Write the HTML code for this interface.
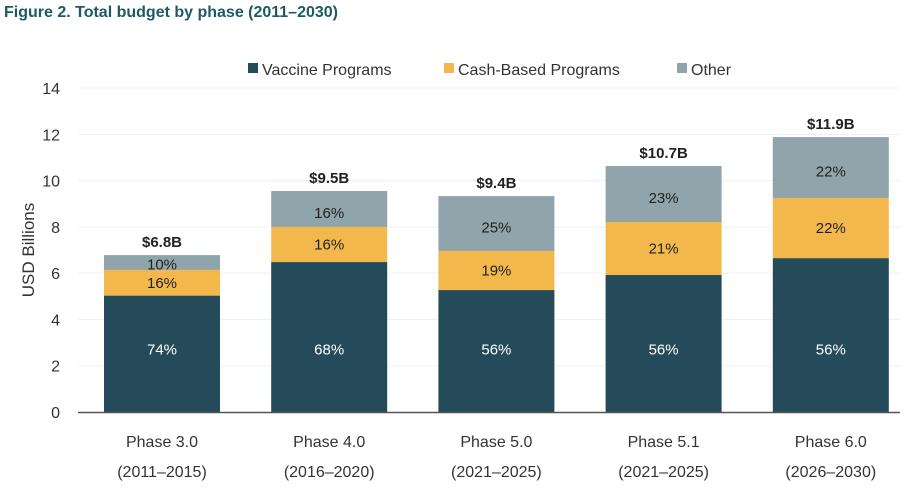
<!DOCTYPE html>
<html><head><meta charset="utf-8"><style>
body{margin:0;background:#fff;width:910px;height:487px;overflow:hidden}
svg{font-family:"Liberation Sans",sans-serif}
</style></head><body>
<svg id="c" width="910" height="487">
<text x="4" y="17" font-size="16" font-weight="bold" fill="#1f5a63" textLength="334">Figure 2. Total budget by phase (2011–2030)</text>
<g font-size="16" fill="#333">
<rect x="248" y="63" width="10" height="10" fill="#254b5a"/>
<text x="262" y="75">Vaccine Programs</text>
<rect x="444" y="63" width="10" height="10" fill="#f2b84b"/>
<text x="458" y="75">Cash-Based Programs</text>
<rect x="677" y="63" width="10" height="10" fill="#8fa4ab"/>
<text x="691" y="75">Other</text>
</g>
<text transform="translate(34,250) rotate(-90)" text-anchor="middle" font-size="17" fill="#333">USD Billions</text>
</svg>
<script>
const categories=["Phase 3.0","Phase 4.0","Phase 5.0","Phase 5.1","Phase 6.0"];
const years=["(2011–2015)","(2016–2020)","(2021–2025)","(2021–2025)","(2026–2030)"];
const vaccine=[5.03,6.48,5.27,5.92,6.65];
const cash=[1.11,1.52,1.69,2.29,2.6];
const other=[0.64,1.55,2.37,2.42,2.63];
const vaccinePct=["74%","68%","56%","56%","56%"];
const cashPct=["16%","16%","19%","21%","22%"];
const otherPct=["10%","16%","25%","23%","22%"];
const totals=["$6.8B","$9.5B","$9.4B","$10.7B","$11.9B"];
const yTicks=[0,2,4,6,8,10,12,14];
const svg=document.getElementById('c');const NS='http://www.w3.org/2000/svg';
const y=v=>412-v*23.14;
const xc=i=>162+i*167.2;
const bw=116;
function mk(t,a){const e=document.createElementNS(NS,t);for(const k in a)e.setAttribute(k,a[k]);svg.appendChild(e);return e;}
yTicks.forEach(v=>{
  if(v>0){const g=mk('line',{x1:78,x2:900,y1:y(v),y2:y(v),stroke:'#eef1f3','stroke-width':1});
  
  }
  const t=mk('text',{x:60,y:y(v)+6,'text-anchor':'end','font-size':16,fill:'#333'});t.textContent=v;
  
  
});
categories.forEach((c,i)=>{
  const x0=xc(i)-bw/2;
  const segs=[[0,vaccine[i],'#254b5a',vaccinePct[i],'#fff','bar-vaccine'],[vaccine[i],cash[i],'#f2b84b',cashPct[i],'#222','bar-cash'],[vaccine[i]+cash[i],other[i],'#8fa4ab',otherPct[i],'#222','bar-other']];
  segs.forEach((s,k)=>{
    const r=mk('rect',{x:x0,y:y(s[0]+s[1]),width:bw,height:s[1]*23.14,fill:s[2]});
    
    
    let ly=(y(s[0])+y(s[0]+s[1]))/2+5;
    if(k===0) ly=y(2.7)+5;
    if(k===2) ly+=Math.min(4,s[1]*3);
    const t=mk('text',{x:xc(i),y:ly,'text-anchor':'middle','font-size':15,fill:s[4]});t.textContent=s[3];
    
    
  });
  const tot=vaccine[i]+cash[i]+other[i];
  const tl=mk('text',{x:xc(i),y:y(tot)-8,'text-anchor':'middle','font-size':15,'font-weight':'bold',fill:'#222'});tl.textContent=totals[i];
  
  
  const a=mk('text',{x:xc(i),y:447,'text-anchor':'middle','font-size':16,fill:'#333'});a.textContent=c;
  
  
  const b=mk('text',{x:xc(i),y:477,'text-anchor':'middle','font-size':16,fill:'#333'});b.textContent=years[i];
  
  
});
const ax=mk('line',{x1:78,x2:900,y1:412.5,y2:412.5,stroke:'#555','stroke-width':1.5});


</script>
</body></html>
